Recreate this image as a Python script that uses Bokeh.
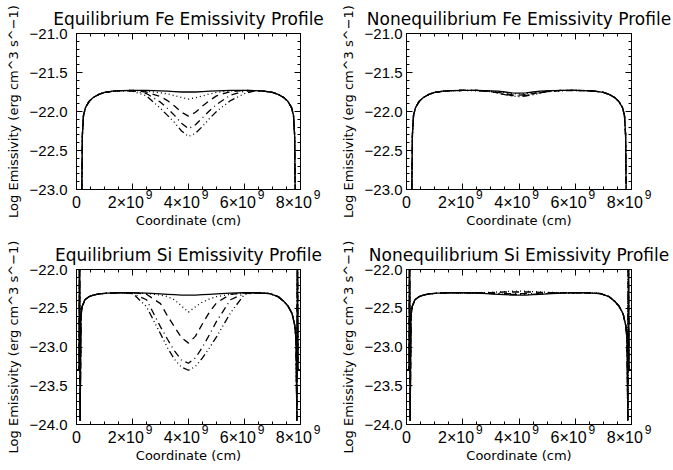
from bokeh.plotting import figure
from bokeh.layouts import column, row
from bokeh.models import FixedTicker, LinearAxis, Range1d
from bokeh.embed import file_html
from bokeh.resources import INLINE

FONT = "DejaVu Sans"
TICK_FONT = "Liberation Sans"
NBSP = "\u00a0"

# Coordinate along the loop, in units of 1e9 cm
X_TICKS = [0, 2, 4, 6, 8]
X_TICK_MANTISSAS = ["0", "2×10", "4×10", "6×10", "8×10"]
X_TICK_EXPONENTS = ["", "9", "9", "9", "9"]
X_MINOR = [0.5, 1.0, 1.5, 2.5, 3.0, 3.5, 4.5, 5.0, 5.5, 6.5, 7.0, 7.5]

FE_Y_TICKS = [-23.0, -22.5, -22.0, -21.5, -21.0]
SI_Y_TICKS = [-24.0, -23.5, -23.0, -22.5, -22.0]

# Shared footpoint sections of the Fe profiles
FE_X_LEFT = [0.16, 0.19, 0.21, 0.25, 0.32, 0.45, 0.6, 0.8, 1.0, 1.3, 1.6]
FE_LEFT = [-25.0, -23.0, -22.3, -22.05, -21.95, -21.87, -21.82, -21.78, -21.755, -21.74, -21.733]
FE_X_RIGHT = [6.4, 6.7, 7.0, 7.2, 7.4, 7.55, 7.68, 7.75, 7.79, 7.81, 7.84]
FE_RIGHT = [-21.733, -21.74, -21.755, -21.78, -21.82, -21.87, -21.95, -22.05, -22.3, -23.0, -25.0]

# Shared footpoint sections of the Si profiles
SI_X_LEFT = [0.0, 0.09, 0.11, 0.13, 0.16, 0.2, 0.3, 0.45, 0.6, 0.8, 1.1, 1.6]
SI_LEFT = [-23.3, -23.3, -21.5, -23.95, -22.6, -22.48, -22.39, -22.35, -22.33, -22.315, -22.305, -22.3]
SI_X_RIGHT = [6.4, 6.9, 7.2, 7.4, 7.55, 7.7, 7.8, 7.84, 7.87, 7.89, 7.91, 8.0]
SI_RIGHT = [-22.3, -22.31, -22.35, -22.41, -22.47, -22.57, -22.73, -22.9, -23.95, -21.5, -23.3, -23.3]

# Loop-top section, common coordinate grid
X_MID = [2.0, 2.5, 3.0, 3.25, 3.5, 3.75, 4.0, 4.25, 4.5, 4.75, 5.0, 5.5, 6.0]

EQ_FE = [
    [-21.73, -21.73, -21.735, -21.74, -21.745, -21.75, -21.75, -21.75, -21.745, -21.74, -21.735, -21.73, -21.73],
    [-21.73, -21.74, -21.76, -21.775, -21.795, -21.82, -21.84, -21.825, -21.80, -21.775, -21.755, -21.735, -21.73],
    [-21.73, -21.75, -21.81, -21.86, -21.93, -22.01, -22.06, -22.01, -21.93, -21.86, -21.80, -21.745, -21.73],
    [-21.735, -21.77, -21.88, -21.96, -22.05, -22.15, -22.22, -22.17, -22.08, -21.99, -21.91, -21.79, -21.74],
    [-21.74, -21.80, -21.96, -22.05, -22.14, -22.25, -22.32, -22.28, -22.19, -22.09, -22.0, -21.86, -21.77],
]
NEQ_FE = [
    [-21.73, -21.73, -21.735, -21.74, -21.75, -21.76, -21.765, -21.76, -21.75, -21.74, -21.735, -21.73, -21.73],
    [-21.73, -21.73, -21.74, -21.75, -21.76, -21.77, -21.775, -21.77, -21.76, -21.75, -21.74, -21.73, -21.73],
    [-21.73, -21.73, -21.74, -21.755, -21.77, -21.785, -21.79, -21.785, -21.77, -21.755, -21.74, -21.73, -21.73],
    [-21.73, -21.73, -21.745, -21.76, -21.78, -21.795, -21.80, -21.795, -21.78, -21.76, -21.745, -21.73, -21.73],
    [-21.73, -21.735, -21.745, -21.765, -21.785, -21.80, -21.81, -21.80, -21.785, -21.765, -21.745, -21.735, -21.73],
]
EQ_SI = [
    [-22.3, -22.305, -22.315, -22.32, -22.325, -22.33, -22.33, -22.33, -22.325, -22.32, -22.315, -22.305, -22.3],
    [-22.3, -22.31, -22.33, -22.35, -22.39, -22.47, -22.55, -22.48, -22.42, -22.38, -22.35, -22.32, -22.3],
    [-22.3, -22.32, -22.44, -22.6, -22.74, -22.88, -22.95, -22.86, -22.7, -22.55, -22.43, -22.32, -22.3],
    [-22.31, -22.39, -22.74, -22.9, -23.05, -23.17, -23.21, -23.14, -23.0, -22.84, -22.67, -22.39, -22.31],
    [-22.305, -22.48, -22.83, -23.01, -23.16, -23.26, -23.3, -23.25, -23.14, -23.01, -22.87, -22.56, -22.32],
]
NEQ_SI = [
    [-22.3, -22.305, -22.315, -22.32, -22.325, -22.33, -22.33, -22.33, -22.325, -22.32, -22.315, -22.305, -22.3],
    [-22.3, -22.3, -22.295, -22.29, -22.285, -22.28, -22.28, -22.28, -22.285, -22.29, -22.295, -22.3, -22.3],
    [-22.3, -22.3, -22.3, -22.295, -22.29, -22.29, -22.29, -22.29, -22.29, -22.295, -22.3, -22.3, -22.3],
    [-22.3, -22.3, -22.305, -22.305, -22.31, -22.31, -22.31, -22.31, -22.31, -22.305, -22.305, -22.3, -22.3],
    [-22.3, -22.305, -22.31, -22.315, -22.32, -22.32, -22.32, -22.32, -22.32, -22.315, -22.31, -22.305, -22.3],
]

DASHES = ["solid", "1 3", "7 5", "7 4 1 4", "7 3 1 3 1 3 1 3"]


def minor_between(ticks, n=5):
    out = []
    for a, b in zip(ticks[:-1], ticks[1:]):
        step = (b - a) / n
        out += [a + k * step for k in range(1, n)]
    return out


def style_axis(ax, size="15px"):
    ax.axis_line_color = "black"
    ax.major_tick_line_color = "black"
    ax.minor_tick_line_color = "black"
    ax.major_tick_in = 6
    ax.major_tick_out = 0
    ax.minor_tick_in = 3
    ax.minor_tick_out = 0
    ax.major_label_text_font = TICK_FONT
    ax.major_label_text_font_size = size
    ax.major_label_text_color = "black"
    ax.axis_label_text_font = FONT
    ax.axis_label_text_font_size = "13px"
    ax.axis_label_text_font_style = "normal"
    ax.axis_label_text_color = "black"


def mirror_axes(p, where, majors, minors):
    # Label-free tick marks on the opposite frame edges
    for positions, length in ((majors, 6), (minors, 3)):
        ax = LinearAxis(ticker=FixedTicker(ticks=[], minor_ticks=positions))
        ax.axis_line_color = "black"
        ax.major_tick_in = 0
        ax.major_tick_out = 0
        ax.minor_tick_in = length
        ax.minor_tick_out = 0
        ax.minor_tick_line_color = "black"
        ax.major_label_standoff = 0
        p.add_layout(ax, where)


def x_axes(p):
    # Inner axis: tick marks plus the raised powers of ten
    exp_ticks = [t for t, e in zip(X_TICKS, X_TICK_EXPONENTS) if e]
    inner = LinearAxis(ticker=FixedTicker(ticks=exp_ticks, minor_ticks=X_MINOR))
    style_axis(inner, "12px")
    inner.major_label_overrides = {
        t: NBSP * 10 + e for t, e in zip(X_TICKS, X_TICK_EXPONENTS) if e
    }
    inner.major_label_standoff = -2
    p.add_layout(inner, "below")

    # Outer axis: mantissas, pulled up onto the exponents' line, plus the title
    outer = LinearAxis(ticker=FixedTicker(ticks=X_TICKS, minor_ticks=[]),
                       axis_label="Coordinate (cm)")
    style_axis(outer, "16px")
    outer.axis_line_color = None
    outer.major_tick_line_color = None
    outer.minor_tick_line_color = None
    outer.major_label_overrides = {
        t: (m + NBSP * 3 if e else m)
        for t, m, e in zip(X_TICKS, X_TICK_MANTISSAS, X_TICK_EXPONENTS)
    }
    outer.major_label_standoff = -11
    outer.axis_label_standoff = -1
    p.add_layout(outer, "below")


def panel(title, yticks, mids, xl, yl, xr, yr, w, h, bl, br, bt, bb, lab_stand):
    p = figure(width=w, height=h, output_backend="svg", toolbar_location=None,
               x_range=Range1d(0, 8), y_range=Range1d(yticks[0], yticks[-1]),
               x_axis_type=None, y_axis_type=None,
               min_border_left=bl, min_border_right=br,
               min_border_top=bt, min_border_bottom=bb)
    p.background_fill_color = "white"
    p.border_fill_color = "white"
    p.outline_line_color = "black"
    p.outline_line_width = 1

    p.title.text = title
    p.title.text_font = FONT
    p.title.text_font_size = "17px"
    p.title.text_font_style = "normal"
    p.title.align = "center"
    p.title.text_color = "black"

    yminor = minor_between(yticks)
    yt = FixedTicker(ticks=yticks, minor_ticks=yminor)

    x_axes(p)

    left = LinearAxis(ticker=yt, axis_label="Log Emissivity (erg cm^3 s^\u22121)")
    left.major_label_overrides = {t: ("\u2212%.1f" % abs(t)) for t in yticks}
    style_axis(left)
    left.major_label_standoff = lab_stand
    left.axis_label_standoff = 6
    p.add_layout(left, "left")

    mirror_axes(p, "above", X_TICKS, X_MINOR)
    mirror_axes(p, "right", yticks, yminor)

    for ys, dash in zip(mids, DASHES):
        xs = xl + X_MID + xr
        vals = yl + ys + yr
        p.line(xs, vals, line_color="black", line_width=1.3, line_dash=dash)
    return p


p1 = panel("Equilibrium Fe Emissivity Profile", FE_Y_TICKS, EQ_FE,
           FE_X_LEFT, FE_LEFT, FE_X_RIGHT, FE_RIGHT, 336, 235, 76, 36, 33, 46, 9)
p2 = panel("Nonequilibrium Fe Emissivity Profile", FE_Y_TICKS, NEQ_FE,
           FE_X_LEFT, FE_LEFT, FE_X_RIGHT, FE_RIGHT, 337, 235, 70, 42, 32, 46, 4)
p3 = panel("Equilibrium Si Emissivity Profile", SI_Y_TICKS, EQ_SI,
           SI_X_LEFT, SI_LEFT, SI_X_RIGHT, SI_RIGHT, 336, 235, 76, 36, 34, 46, 9)
p4 = panel("Nonequilibrium Si Emissivity Profile", SI_Y_TICKS, NEQ_SI,
           SI_X_LEFT, SI_LEFT, SI_X_RIGHT, SI_RIGHT, 337, 235, 70, 42, 34, 46, 4)

layout = column(row(p1, p2), row(p3, p4))
open("out.html", "w").write(file_html(layout, INLINE))
